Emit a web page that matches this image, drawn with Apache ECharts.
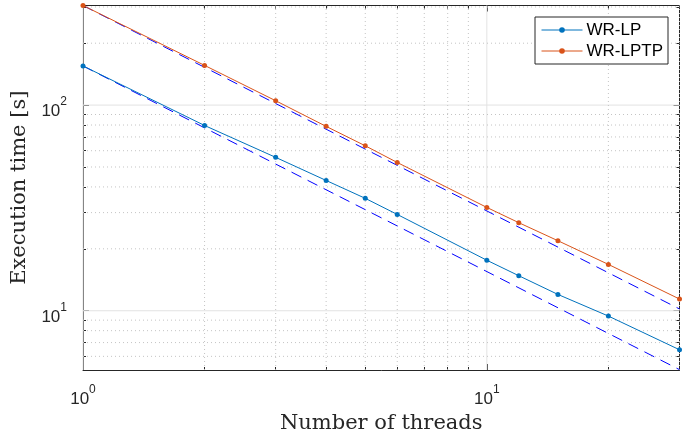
<!DOCTYPE html>
<html><head><meta charset="utf-8">
<script src="https://cdn.jsdelivr.net/npm/echarts@6/dist/echarts.min.js"></script>
<style>html,body{margin:0;padding:0;background:#fff}#c{width:697px;height:439px}</style>
</head><body><div id="c"></div>
<script>
// Data
const threads = [1, 2, 3, 4, 5, 6, 10, 12, 15, 20, 30];
const wrLP   = [155, 79.6, 55.7, 43.0, 35.2, 29.4, 17.6, 14.8, 12.0, 9.42, 6.46];
const wrLPTP = [305, 156, 105, 78.8, 63.4, 52.6, 31.8, 26.8, 21.9, 16.8, 11.4];
const idealX = [1, 30];
const idealLP = [155, 5.17];
const idealLPTP = [305, 10.2];
// Axis ticks
const xMajor = [1, 10];
const xMinor = [2, 3, 4, 5, 6, 7, 8, 9, 20, 30];
const yMajor = [10, 100];
const yMinor = [6, 7, 8, 9, 20, 30, 40, 50, 60, 70, 80, 90, 200, 300];
const xRange = [1, 30];
const yRange = [5.15, 305];

const sans = 'Liberation Sans';
const serif = 'DejaVu Serif';
const axisCol = '#262626';

function supFmt(v) {
  const e = Math.round(Math.log10(v));
  return '{b|10}{s|' + e + '}';
}
const rich = {
  b: { fontSize: 17, fontFamily: sans, color: axisCol, verticalAlign: 'bottom', lineHeight: 24 },
  s: { fontSize: 12, fontFamily: sans, color: axisCol, verticalAlign: 'top', lineHeight: 24 }
};

function mkX(pos, major, withLabel, withLine) {
  return {
    type: 'log', min: xRange[0], max: xRange[1], position: pos, gridIndex: 0,
    axisLine: { show: withLine, onZero: false, lineStyle: { color: axisCol, width: 1 } },
    axisTick: { show: true, inside: true, length: major ? 6 : 3, customValues: major ? xMajor : xMinor,
      lineStyle: { color: axisCol, width: 1 } },
    axisLabel: { show: withLabel, customValues: xMajor, formatter: supFmt, rich: rich, margin: 14 },
    splitLine: { show: false }, minorTick: { show: false }, minorSplitLine: { show: false },
    name: withLabel ? 'Number of threads' : '', nameLocation: 'middle', nameGap: 37,
    nameTextStyle: { fontFamily: serif, fontSize: 21, color: axisCol }
  };
}
function mkY(pos, major, withLabel, withLine) {
  return {
    type: 'log', min: yRange[0], max: yRange[1], position: pos, gridIndex: 0,
    axisLine: { show: withLine, onZero: false, lineStyle: { color: axisCol, width: 1 } },
    axisTick: { show: true, inside: true, length: major ? 6 : 3, customValues: major ? yMajor : yMinor,
      lineStyle: { color: axisCol, width: 1 } },
    axisLabel: { show: withLabel, customValues: yMajor, formatter: supFmt, rich: rich, margin: 16, padding: [6, 0, 0, 0] },
    splitLine: { show: false }, minorTick: { show: false }, minorSplitLine: { show: false },
    name: withLabel ? 'Execution time [s]' : '', nameLocation: 'middle', nameGap: 31,
    nameTextStyle: { fontFamily: serif, fontSize: 21, color: axisCol }
  };
}

function pairs(xs, ys) { return xs.map((x, i) => [x, ys[i]]); }

const gridSeries = [];
function gl(data, major) {
  gridSeries.push({ type: 'line', data: data, silent: true, showSymbol: false, symbol: 'none', z: 1,
    lineStyle: major ? { type: 'solid', color: '#e3e3e3', width: 1 } : { type: [1, 3], color: '#c4c4c4', width: 1 } });
}
xMajor.forEach(v => gl([[v, yRange[0]], [v, yRange[1]]], true));
yMajor.forEach(v => gl([[xRange[0], v], [xRange[1], v]], true));
xMinor.forEach(v => gl([[v, yRange[0]], [v, yRange[1]]], false));
yMinor.forEach(v => gl([[xRange[0], v], [xRange[1], v]], false));

const chart = echarts.init(document.getElementById('c'), null, { renderer: 'canvas' });
chart.setOption({
  animation: false,
  backgroundColor: '#fff',
  grid: { left: 83, right: 17.5, top: 5.5, bottom: 69, containLabel: false },
  xAxis: [mkX('bottom', true, true, true), mkX('bottom', false, false, false),
          mkX('top', true, false, true), mkX('top', false, false, false)],
  yAxis: [mkY('left', true, true, true), mkY('left', false, false, false),
          mkY('right', true, false, true), mkY('right', false, false, false)],
  legend: {
    data: ['WR-LP', 'WR-LPTP'], orient: 'vertical', left: 535, top: 17,
    itemWidth: 41, itemHeight: 7, itemGap: 1,
    padding: [3, 5, 3, 6],
    backgroundColor: '#fff', borderColor: axisCol, borderWidth: 1, borderRadius: 0,
    lineStyle: { width: 1 },
    textStyle: { fontFamily: sans, fontSize: 17, color: '#000', padding: [0, 0, 0, -1], lineHeight: 20 }
  },
  series: gridSeries.concat([
    { name: 'idealLP', type: 'line', data: pairs(idealX, idealLP), showSymbol: false, z: 3,
      lineStyle: { color: '#0000ff', width: 1, type: [11, 7] } },
    { name: 'idealLPTP', type: 'line', data: pairs(idealX, idealLPTP), showSymbol: false, z: 3,
      lineStyle: { color: '#0000ff', width: 1, type: [11, 7] } },
    { name: 'WR-LP', type: 'line', data: pairs(threads, wrLP), z: 4, color: '#0072BD',
      symbol: 'circle', symbolSize: 5, lineStyle: { width: 1 }, itemStyle: { color: '#0072BD' } },
    { name: 'WR-LPTP', type: 'line', data: pairs(threads, wrLPTP), z: 4, color: '#D95319',
      symbol: 'circle', symbolSize: 5, lineStyle: { width: 1 }, itemStyle: { color: '#D95319' } }
  ])
});
</script></body></html>
